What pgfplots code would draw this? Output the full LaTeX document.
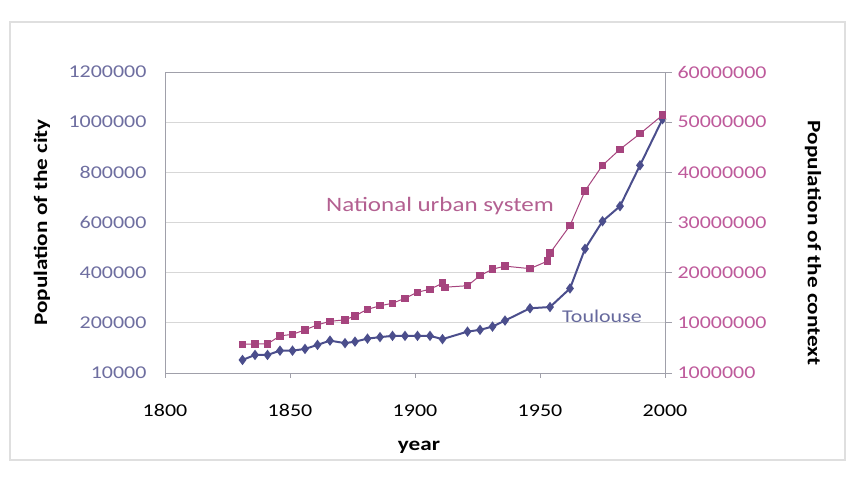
\documentclass[border=0pt]{standalone}
\usepackage{fontspec}
\setmainfont{Carlito}[FakeStretch=1.22]
\usepackage{pgfplots}
\pgfplotsset{compat=1.18}

\definecolor{toul}{RGB}{75,78,140}
\definecolor{nat}{RGB}{166,68,126}
\definecolor{lefttick}{RGB}{110,110,160}
\definecolor{righttick}{RGB}{190,90,155}
\definecolor{gridc}{RGB}{215,215,215}
\definecolor{axisc}{RGB}{160,160,170}

\newcommand{\lbl}{\fontsize{18}{21}\selectfont}
\newcommand{\ttl}{\fontsize{19}{22}\selectfont}

\begin{document}
\begin{tikzpicture}
\path[use as bounding box] (0,0) rectangle (856pt,478pt);
\draw[gray!25, line width=1.5pt] (10pt,18pt) rectangle (845pt,456pt);

% left axis: Toulouse
\begin{axis}[
    at={(165pt,105pt)}, anchor=south west,
    scale only axis, width=500pt, height=301pt,
    xmin=1800, xmax=2000, ymin=0, ymax=1200000,
    xtick={1800,1850,...,2000},
    ytick={0,200000,...,1200000},
    yticklabels={10000,200000,400000,600000,800000,1000000,1200000},
    scaled y ticks=false,
    /pgf/number format/assume math mode=true,
    /pgf/number format/1000 sep={},
    ymajorgrids, grid style={gridc, line width=0.8pt},
    axis line style={axisc, line width=0.8pt},
    xtick pos=bottom, ytick style={draw=none},
    tick align=outside, major tick length=5pt, xtick style={axisc},
    yticklabel style={font=\lbl, text=lefttick, xshift=-10pt},
    xticklabel style={font=\lbl, text=black, yshift=-23pt},
    ylabel={\bfseries Population of the city},
    ylabel style={font=\ttl, at={(axis description cs:-0.246,0.5)}, anchor=center},
    xlabel={\bfseries year},
    xlabel style={font=\ttl, at={(axis description cs:0.508,-0.246)}, anchor=center},
]
\addplot[toul, line width=2pt, mark=diamond*, mark size=3.6pt] table {
1831 52000
1836 72000
1841 72000
1846 89000
1851 89000
1856 96000
1861 112000
1866 129000
1872 119000
1876 125000
1881 137000
1886 143000
1891 148000
1896 148000
1901 148000
1906 148000
1911 135000
1921 165000
1926 172000
1931 185000
1936 209000
1946 258000
1954 263000
1962 337000
1968 495000
1975 605000
1982 665000
1990 828000
1999 1012000
};
\node[text=nat!85, font=\fontsize{20.5}{24}\selectfont] at (axis cs:1910,664000) {National urban system};
\node[text=toul!85, font=\lbl, anchor=west, inner sep=0pt] at (axis cs:1958.8,224000) {Toulouse};
\end{axis}

% right axis: national urban system
\begin{axis}[
    at={(165pt,105pt)}, anchor=south west,
    scale only axis, width=500pt, height=301pt,
    xmin=1800, xmax=2000, ymin=0, ymax=60000000,
    axis x line=none, axis y line*=right,
    ytick={0,10000000,...,60000000},
    yticklabels={1000000,10000000,20000000,30000000,40000000,50000000,60000000},
    scaled y ticks=false,
    axis line style={axisc, line width=0.8pt},
    tick align=outside, major tick length=7pt, ytick style={axisc, line width=0.8pt},
    yticklabel style={font=\lbl, text=righttick, xshift=2pt},
    ylabel={\bfseries Population of the context},
    ylabel style={font=\ttl, at={(axis description cs:1.296,0.432)}, anchor=center, rotate=180},
]
\addplot[nat, line width=1pt, mark=square*, mark size=3.2pt] table {
1831 5730000
1836 5800000
1841 5800000
1846 7400000
1851 7700000
1856 8600000
1861 9600000
1866 10300000
1872 10600000
1876 11400000
1881 12700000
1886 13400000
1891 13900000
1896 14900000
1901 16100000
1906 16700000
1911 17900000
1912 17100000
1921 17400000
1926 19400000
1931 20700000
1936 21300000
1946 20800000
1953 22300000
1954 23900000
1962 29400000
1968 36300000
1975 41400000
1982 44600000
1990 47700000
1999 51400000
};
\end{axis}
\end{tikzpicture}
\end{document}
